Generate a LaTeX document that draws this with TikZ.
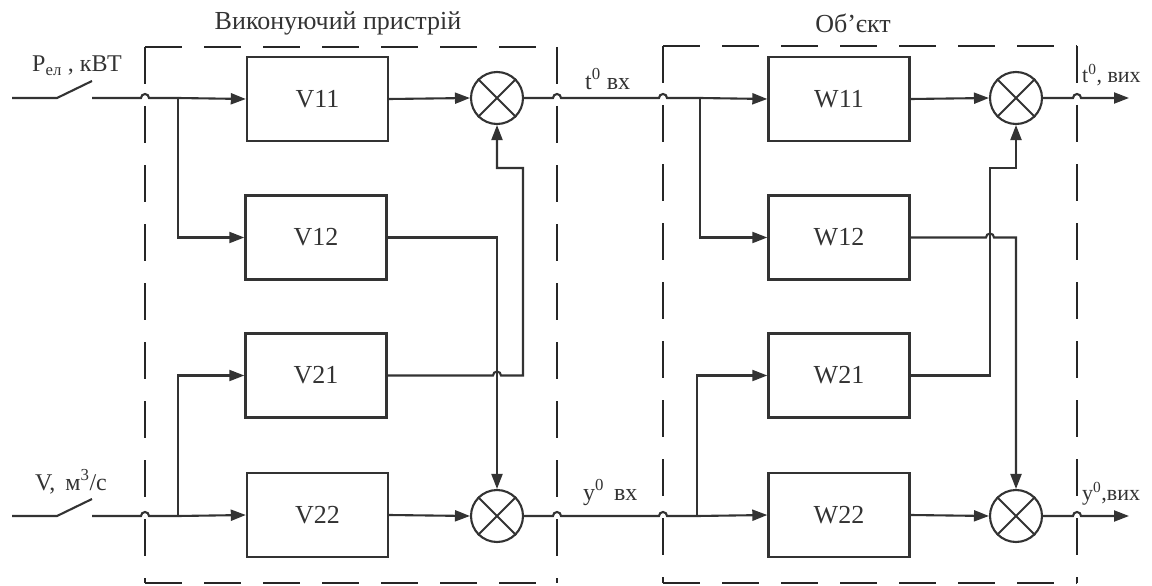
\documentclass[tikz,border=0pt]{standalone}
\usepackage{fontspec}
\setmainfont{Liberation Serif}
\usetikzlibrary{arrows.meta}
\definecolor{ln}{HTML}{333333}
\definecolor{fr}{HTML}{262626}
\begin{document}
\begin{tikzpicture}[x=1pt,y=-1pt,
  wire/.style={draw=ln, line width=2.1pt},
  arr/.style={wire, -{Triangle[length=15pt,width=11pt]}},
  blk/.style={draw=ln, line width=2.4pt, minimum width=141pt, minimum height=84pt, inner sep=0pt, font=\fontsize{26}{30}\selectfont, text=ln},
  sum/.style={circle, draw=ln, line width=2.1pt, minimum size=52pt, inner sep=0pt},
  frame/.style={draw=fr, line width=2.3pt, dash pattern=on 37pt off 22pt},
  ttl/.style={font=\fontsize{26}{30}\selectfont, text=ln},
  lbl/.style={font=\fontsize{24}{28}\selectfont, text=ln, anchor=base west, inner sep=0pt}]
\useasboundingbox (0,0) rectangle (1152,586);

% frames
\draw[frame] (145,47) -- (557,47);
\draw[frame] (145,47) -- (145,583);
\draw[frame] (557,47) -- (557,583);
\draw[frame] (145,583) -- (557,583);
\draw[frame] (663,46) -- (1077,46);
\draw[frame] (663,46) -- (663,583);
\draw[frame] (1077,46) -- (1077,583);
\draw[frame] (663,583) -- (1077,583);

\node[ttl] (t1) at (338,23) {Виконуючий пристрій};
\node[ttl] (t2) at (853,23) {Об'єкт};

% blocks
\node[blk] (V11) at (317.5,99) {V11};
\node[blk] (V12) at (316,237.5) {V12};
\node[blk] (V21) at (316,375.5) {V21};
\node[blk] (V22) at (317.5,515) {V22};
\node[blk] (W11) at (839,99) {W11};
\node[blk] (W12) at (839,237.5) {W12};
\node[blk] (W21) at (839,375.5) {W21};
\node[blk] (W22) at (839,515) {W22};

% summators
\foreach \n/\x/\y in {S1/497/98, S2/497/516, S3/1016/98, S4/1016/516}{
  \node[sum] (\n) at (\x,\y) {};
  \draw[ln, line width=1.8pt] (\n.north east) -- (\n.south west) (\n.north west) -- (\n.south east);
}

% inputs and switches
\coordinate (a1) at (12,98);
\coordinate (a2) at (57,98);
\coordinate (a3) at (92,81);
\coordinate (a4) at (92,98);
\coordinate (J1) at (178,98);
\draw[wire] (a1) -- (a2) -- (a3);
\draw[wire] (a4) -- (141,98) arc[start angle=180,end angle=360,radius=4] -- (J1);
\draw[arr] (J1) -- (V11.west);
\draw[arr] (J1) |- (V12.west);

\coordinate (b1) at (12,516);
\coordinate (b2) at (57,516);
\coordinate (b3) at (92,499);
\coordinate (b4) at (92,516);
\coordinate (J2) at (178,516);
\draw[wire] (b1) -- (b2) -- (b3);
\draw[wire] (b4) -- (141,516) arc[start angle=180,end angle=360,radius=4] -- (J2);
\draw[arr] (J2) -- (V22.west);
\draw[arr] (J2) |- (V21.west);

\node[lbl] (lp) at (32,72) {P\textsubscript{ел} , кВТ};
\node[lbl] (lv) at (35,490) {V,\, м\textsuperscript{3}/с};

% V block outputs
\draw[arr] (V11.east) -- (S1.west);
\draw[arr] (V22.east) -- (S2.west);
\draw[arr] (V12.east) -- (V12.east -| S2) -- (S2.north);
\draw[arr] (V21.east) -- (493,375.5) arc[start angle=180,end angle=360,radius=4] -- (523,375.5) -- (523,168) -- (497,168) -- (S1.south);

% middle connections
\coordinate (J3) at (700,98);
\coordinate (J4) at (697,516);
\draw[wire] (S1.east) -- (553,98) arc[start angle=180,end angle=360,radius=4] -- (659,98) arc[start angle=180,end angle=360,radius=4] -- (J3);
\draw[arr] (J3) -- (W11.west);
\draw[arr] (J3) |- (W12.west);
\draw[wire] (S2.east) -- (553,516) arc[start angle=180,end angle=360,radius=4] -- (659,516) arc[start angle=180,end angle=360,radius=4] -- (J4);
\draw[arr] (J4) -- (W22.west);
\draw[arr] (J4) |- (W21.west);

\node[lbl] (lt) at (585,89) {t\textsuperscript{0} вх};
\node[lbl] (ly) at (583,500) {y\textsuperscript{0}\, вх};

% W block outputs
\draw[arr] (W11.east) -- (S3.west);
\draw[arr] (W22.east) -- (S4.west);
\draw[arr] (W12.east) -- (986,237.5) arc[start angle=180,end angle=360,radius=4] -- (W12.east -| S4) -- (S4.north);
\draw[arr] (W21.east) -- (990,375.5) -- (990,168) -- (1016,168) -- (S3.south);

% outputs
\coordinate (o1) at (1129,98);
\coordinate (o2) at (1129,516);
\draw[arr] (S3.east) -- (1073,98) arc[start angle=180,end angle=360,radius=4] -- (o1);
\draw[arr] (S4.east) -- (1073,516) arc[start angle=180,end angle=360,radius=4] -- (o2);

\node[lbl, font=\fontsize{22}{26}\selectfont] (lto) at (1082,82) {t\textsuperscript{0}, вих};
\node[lbl, font=\fontsize{22}{26}\selectfont] (lyo) at (1082,500) {y\textsuperscript{0},вих};
\end{tikzpicture}
\end{document}
